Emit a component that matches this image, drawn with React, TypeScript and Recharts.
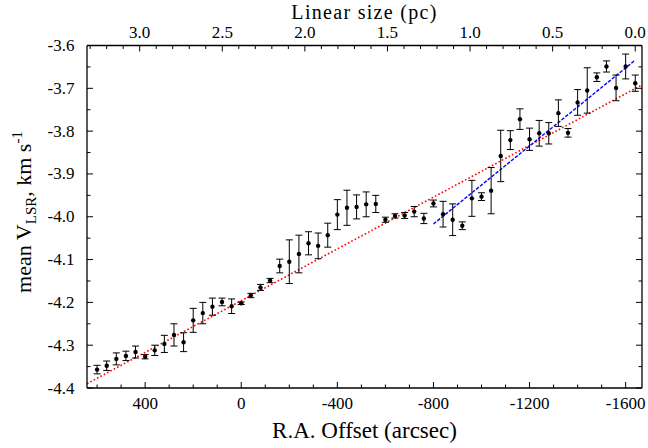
import React from 'react';
import { ComposedChart, Scatter, Line, XAxis, YAxis, ErrorBar } from 'recharts';

// R.A. offsets (arcsec) of the measured points
const offsets = [
  600, 560, 520, 480, 440, 400, 360, 320, 280, 240,
  200, 160, 120, 80, 40, 0, -40, -80, -120, -160,
  -200, -240, -280, -320, -360, -400, -440, -480, -520, -560,
  -600, -640, -680, -720, -760, -800, -840, -880, -920, -960,
  -1000, -1040, -1080, -1120, -1160, -1200, -1240, -1280, -1320, -1360,
  -1400, -1440, -1480, -1520, -1560, -1600, -1640,
];
// mean V_LSR (km/s)
const meanV = [
  -4.357, -4.348, -4.332, -4.325, -4.316, -4.327, -4.312, -4.297, -4.276, -4.293,
  -4.242, -4.225, -4.210, -4.199, -4.209, -4.202, -4.184, -4.165, -4.149, -4.115,
  -4.105, -4.087, -4.062, -4.068, -4.043, -3.995, -3.979, -3.977, -3.971, -3.970,
  -4.007, -3.998, -3.997, -3.988, -4.004, -3.969, -3.994, -4.007, -4.021, -3.957,
  -3.953, -3.939, -3.858, -3.821, -3.772, -3.819, -3.805, -3.805, -3.758, -3.804,
  -3.733, -3.705, -3.674, -3.649, -3.699, -3.649, -3.688,
];
// 1-sigma errors (km/s)
const errV = [
  0.010, 0.011, 0.014, 0.011, 0.014, 0.005, 0.012, 0.020, 0.026, 0.022,
  0.028, 0.025, 0.020, 0.009, 0.017, 0.003, 0.005, 0.007, 0.005, 0.016,
  0.051, 0.044, 0.027, 0.030, 0.028, 0.035, 0.041, 0.028, 0.029, 0.020,
  0.006, 0.005, 0.007, 0.012, 0.012, 0.008, 0.030, 0.037, 0.009, 0.042,
  0.009, 0.054, 0.060, 0.022, 0.024, 0.026, 0.030, 0.025, 0.031, 0.010,
  0.030, 0.053, 0.010, 0.013, 0.030, 0.029, 0.019,
];

// linear fits
const redFitOffsets = [642, -1668];
const redFitV = [-4.390, -3.692];
const blueFitOffsets = [-800, -1640];
const blueFitV = [-4.017, -3.634];

// linear-size conversion: zero point (arcsec) and arcsec per pc
const pcZeroOffset = -1640;
const arcsecPerPc = 687.5;

// axes
const raDomain = [-1668, 642];
const pcDomain = [-0.041, 3.319];
const vDomain = [-4.4, -3.6];
const raTicks = [600, 500, 400, 300, 200, 100, 0, -100, -200, -300, -400, -500, -600, -700, -800,
  -900, -1000, -1100, -1200, -1300, -1400, -1500, -1600];
const raLabelTicks = [400, 0, -400, -800, -1200, -1600];
const pcTicks = [3.3, 3.2, 3.1, 3.0, 2.9, 2.8, 2.7, 2.6, 2.5, 2.4, 2.3, 2.2, 2.1, 2.0, 1.9, 1.8, 1.7,
  1.6, 1.5, 1.4, 1.3, 1.2, 1.1, 1.0, 0.9, 0.8, 0.7, 0.6, 0.5, 0.4, 0.3, 0.2, 0.1, 0.0];
const pcLabelTicks = [3.0, 2.5, 2.0, 1.5, 1.0, 0.5, 0.0];
const vTicks = [-4.4, -4.35, -4.3, -4.25, -4.2, -4.15, -4.1, -4.05, -4.0, -3.95, -3.9, -3.85,
  -3.8, -3.75, -3.7, -3.65, -3.6];
const vLabelTicks = [-4.4, -4.3, -4.2, -4.1, -4.0, -3.9, -3.8, -3.7, -3.6];

const pointData = offsets.map((a, i) => ({
  a,
  pc: (a - pcZeroOffset) / arcsecPerPc,
  v: meanV[i],
  e: errV[i],
}));
const redData = redFitOffsets.map((a, i) => ({ a, v: redFitV[i] }));
const blueData = blueFitOffsets.map((a, i) => ({ a, v: blueFitV[i] }));

const FONT = '"Liberation Serif", "Times New Roman", serif';
const TICK_FS = 17;
const MAJOR = 6;
const MINOR = 3.5;
const isIn = (v: number, arr: number[]) => arr.some((t) => Math.abs(t - v) < 1e-6);

function BottomTick(p: any) {
  const { x, y, payload } = p;
  const v = payload.value;
  const major = isIn(v, raLabelTicks);
  return (
    <g>
      <line x1={x} x2={x} y1={y} y2={y - (major ? MAJOR : MINOR)} stroke="#000" strokeWidth={1} />
      {major && (
        <text x={x} y={y + 20.5} textAnchor="middle" fontFamily={FONT} fontSize={TICK_FS} fill="#000">
          {String(v)}
        </text>
      )}
    </g>
  );
}

function TopTick(p: any) {
  const { x, y, payload } = p;
  const v = payload.value;
  const major = isIn(v, pcLabelTicks);
  return (
    <g>
      <line x1={x} x2={x} y1={y} y2={y + (major ? MAJOR : MINOR)} stroke="#000" strokeWidth={1} />
      {major && (
        <text x={x} y={y - 8} textAnchor="middle" fontFamily={FONT} fontSize={TICK_FS} fill="#000">
          {Math.abs(v).toFixed(1)}
        </text>
      )}
    </g>
  );
}

function LeftTick(p: any) {
  const { x, y, payload } = p;
  const v = payload.value;
  const major = isIn(v, vLabelTicks);
  return (
    <g>
      <line x1={x} x2={x + (major ? MAJOR : MINOR)} y1={y} y2={y} stroke="#000" strokeWidth={1} />
      {major && (
        <text x={x - 12.5} y={y + 5.5} textAnchor="end" fontFamily={FONT} fontSize={TICK_FS} fill="#000">
          {v.toFixed(1)}
        </text>
      )}
    </g>
  );
}

function RightTick(p: any) {
  const { x, y, payload } = p;
  const v = payload.value;
  const major = isIn(v, vLabelTicks);
  return (
    <g>
      <line x1={x} x2={x - (major ? MAJOR : MINOR)} y1={y} y2={y} stroke="#000" strokeWidth={1} />
    </g>
  );
}

function BottomLabel(p: any) {
  const vb = p.viewBox;
  return (
    <text x={vb.x + vb.width / 2} y={vb.y + 50} textAnchor="middle" fontFamily={FONT} fontSize={23} fill="#000">
      R.A. Offset (arcsec)
    </text>
  );
}

function TopLabel(p: any) {
  const vb = p.viewBox;
  return (
    <text
      x={vb.x + vb.width / 2}
      y={vb.y + vb.height - 26.9}
      textAnchor="middle"
      fontFamily={FONT}
      fontSize={20}
      letterSpacing={1.3}
      fill="#000"
    >
      Linear size (pc)
    </text>
  );
}

function LeftLabel(p: any) {
  const vb = p.viewBox;
  const cx = vb.x + vb.width - 56;
  const cy = 212;
  return (
    <text x={cx} y={cy} textAnchor="middle" fontFamily={FONT} fontSize={22} fill="#000" transform={`rotate(-90, ${cx}, ${cy})`}>
      <tspan>mean V</tspan>
      <tspan dy={5} fontSize={15}>LSR</tspan>
      <tspan dy={-5}>, km s</tspan>
      <tspan dy={-9} fontSize={15}>-1</tspan>
    </text>
  );
}

const Dot = (p: any) => <circle cx={p.cx} cy={p.cy} r={2.2} fill="#000" />;
const NoMark = () => <g />;

export default function App() {
  return (
    <div style={{ position: 'absolute', left: 0, top: 0, background: '#fff' }}>
      <ComposedChart width={648} height={448} margin={{ top: 44.5, right: 5, bottom: 59, left: 86 }}>
        <XAxis
          xAxisId="ra"
          dataKey="a"
          type="number"
          orientation="bottom"
          domain={raDomain}
          reversed
          allowDataOverflow
          ticks={raTicks}
          interval={0}
          height={1}
          tickSize={0}
          tickMargin={0}
          tickLine={false}
          tick={<BottomTick />}
          axisLine={{ stroke: '#000', strokeWidth: 1.3 }}
          label={<BottomLabel />}
        />
        <XAxis
          xAxisId="pc"
          dataKey="pc"
          type="number"
          orientation="top"
          domain={pcDomain}
          reversed
          allowDataOverflow
          ticks={pcTicks}
          interval={0}
          height={1}
          tickSize={0}
          tickMargin={0}
          tickLine={false}
          tick={<TopTick />}
          axisLine={{ stroke: '#000', strokeWidth: 1.3 }}
          label={<TopLabel />}
        />
        <YAxis
          yAxisId="v"
          type="number"
          orientation="left"
          domain={vDomain}
          allowDataOverflow
          ticks={vTicks}
          interval={0}
          width={1}
          tickSize={0}
          tickMargin={0}
          tickLine={false}
          tick={<LeftTick />}
          axisLine={{ stroke: '#000', strokeWidth: 1.3 }}
          label={<LeftLabel />}
        />
        <YAxis
          yAxisId="vr"
          type="number"
          orientation="right"
          domain={vDomain}
          allowDataOverflow
          ticks={vTicks}
          interval={0}
          width={1}
          tickSize={0}
          tickMargin={0}
          tickLine={false}
          tick={<RightTick />}
          axisLine={{ stroke: '#000', strokeWidth: 1.3 }}
        />
        <Scatter
          xAxisId="pc"
          yAxisId="vr"
          data={pointData}
          dataKey="v"
          shape={<NoMark />}
          legendType="none"
          isAnimationActive={false}
        />
        <Line
          xAxisId="ra"
          yAxisId="v"
          data={redData}
          dataKey="v"
          type="linear"
          stroke="#ff0000"
          strokeWidth={1.6}
          strokeDasharray="1.6 2.2"
          dot={false}
          activeDot={false}
          isAnimationActive={false}
        />
        <Line
          xAxisId="ra"
          yAxisId="v"
          data={blueData}
          dataKey="v"
          type="linear"
          stroke="#0000ff"
          strokeWidth={1.4}
          strokeDasharray="3.5 1.5"
          dot={false}
          activeDot={false}
          isAnimationActive={false}
        />
        <Scatter
          xAxisId="ra"
          yAxisId="v"
          data={pointData}
          dataKey="v"
          fill="#000"
          shape={<Dot />}
          isAnimationActive={false}
        >
          <ErrorBar dataKey="e" direction="y" width={3.5} stroke="#000" strokeWidth={1} isAnimationActive={false} />
        </Scatter>
      </ComposedChart>
    </div>
  );
}
